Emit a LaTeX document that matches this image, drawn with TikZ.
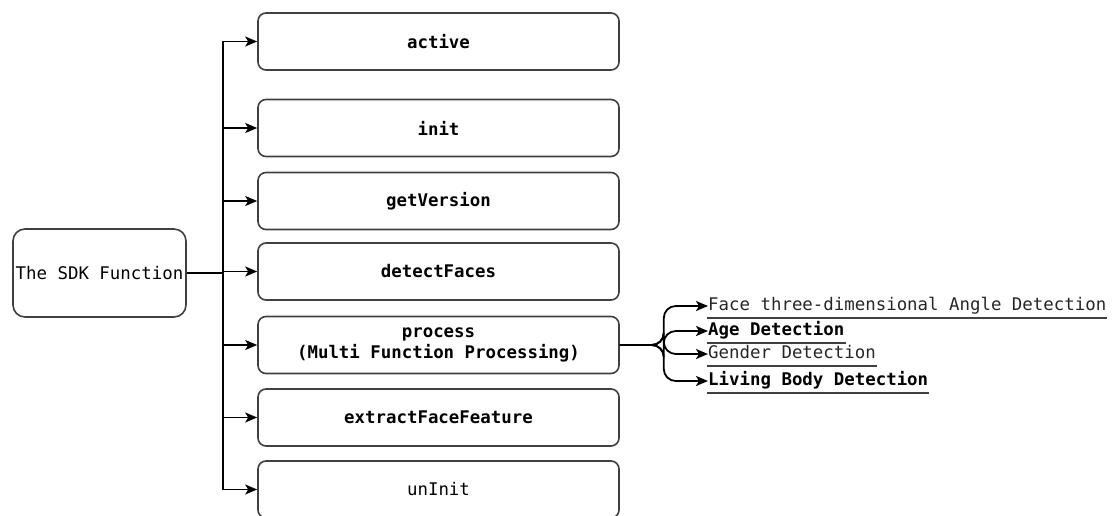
\documentclass[tikz,border=0pt]{standalone}
\usepackage{fontspec}
\usetikzlibrary{arrows.meta,calc}
\newfontfamily\labfont{DejaVu Sans Mono}
\begin{document}
\begin{tikzpicture}[x=1pt,y=-1pt,
  box/.style={draw=black!75,line width=1.6pt,rounded corners=8pt,fill=white,
    minimum width=361pt,minimum height=57pt,inner sep=0pt,align=center,
    font=\labfont\fontsize{17.4}{21}\selectfont\bfseries},
  rootbox/.style={draw=black!75,line width=1.6pt,rounded corners=12pt,
    minimum width=173pt,minimum height=88pt,inner sep=0pt,
    font=\labfont\fontsize{17.4}{21}\selectfont},
  leaf/.style={anchor=west,inner sep=0pt,text height=12pt,text depth=3pt,
    font=\labfont\fontsize{17.4}{21}\selectfont},
  arr/.style={line width=1.8pt,-{Stealth[length=12pt,width=10pt,inset=3pt]}},
  uline/.style={line width=1.5pt,black!75}]
\useasboundingbox (0,0) rectangle (1112,515);

% root of the tree
\node[rootbox] (sdk) at (99.5,273) {The SDK Function};

% SDK calls
\node[box] (active)  at (438.5,41.5)  {active};
\node[box] (init)    at (438.5,128)   {init};
\node[box] (version) at (438.5,201)   {getVersion};
\node[box] (detect)  at (438.5,271.5) {detectFaces};
\node[box] (process) at (438.5,345)   {process\\(Multi Function Processing)};
\node[box] (extract) at (438.5,417.5) {extractFaceFeature};
\node[box,font=\labfont\fontsize{17.4}{21}\selectfont] (uninit) at (438.5,489.5) {unInit};

% trunk and branches
\foreach \b in {active,init,version,detect,process,extract,uninit}
  \draw[arr] (sdk.east) -- ++(36,0) |- (\b.west);

% sub-functions of process
\node[leaf,text=black!85] (angle)  at (708,306) {Face three-dimensional Angle Detection};
\node[leaf,font=\labfont\fontsize{17.4}{21}\selectfont\bfseries] (age) at (708,331) {Age Detection};
\node[leaf,text=black!85] (gender) at (708,354) {Gender Detection};
\node[leaf,font=\labfont\fontsize{17.4}{21}\selectfont\bfseries] (living) at (708,381) {Living Body Detection};

\foreach \l in {angle,age,gender,living}{
  \draw[arr,rounded corners=12pt] (process.east) -- ++(44,0) |- (\l.west);
  \draw[uline] ($(\l.west)+(-1,12)$) -- ($(\l.east)+(1,12)$);
}
\end{tikzpicture}
\end{document}
